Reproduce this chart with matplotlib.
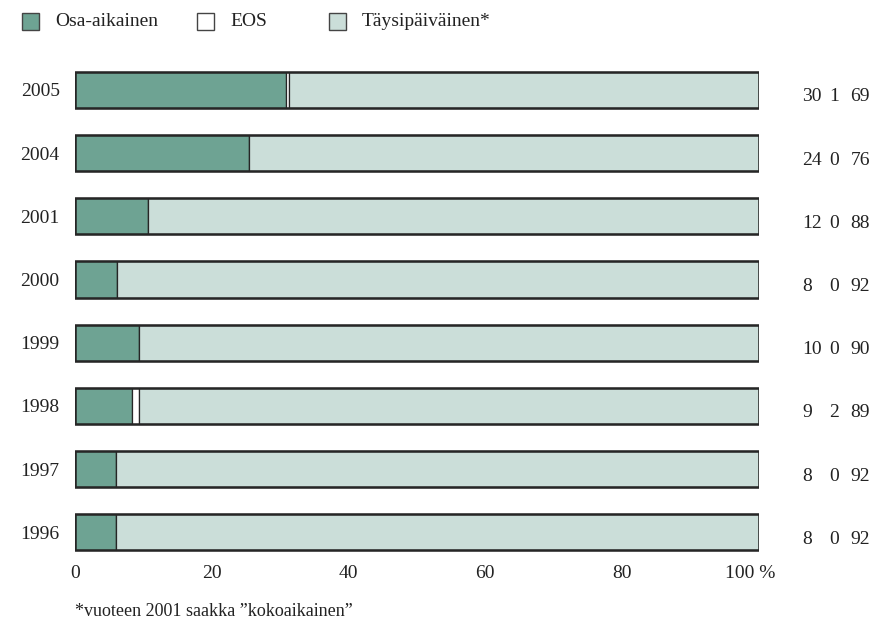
import matplotlib.pyplot as plt
from matplotlib.patches import Rectangle
from matplotlib.transforms import ScaledTranslation

plt.rcParams['font.family'] = ['Liberation Serif', 'DejaVu Serif']

years = ['1996', '1997', '1998', '1999', '2000', '2001', '2004', '2005']
# bar lengths as drawn in the picture (percent)
osa = [6.0, 6.0, 8.3, 9.4, 6.1, 10.7, 25.5, 30.8]
eos = [0.0, 0.0, 1.1, 0.0, 0.0, 0.0, 0.0, 0.5]
taysi = [100 - o - e for o, e in zip(osa, eos)]
# printed figures at the right of each bar
lbl_osa = ['8', '8', '9', '10', '8', '12', '24', '30']
lbl_eos = ['0', '0', '2', '0', '0', '0', '0', '1']
lbl_taysi = ['92', '92', '89', '90', '92', '88', '76', '69']

legend_names = ['Osa-aikainen', 'EOS', 'Täysipäiväinen*']
xticks = [0, 20, 40, 60, 80, 100]
xticklabels = ['0', '20', '40', '60', '80', '100 %']
footnote = '*vuoteen 2001 saakka ”kokoaikainen”'

c_osa = '#6ea393'
c_eos = '#ffffff'
c_taysi = '#cbded9'
c_edge = '#262626'
c_text = '#222222'

W, H = 872, 622
fig = plt.figure(figsize=(W / 100, H / 100), dpi=100)
ax = fig.add_axes([75 / W, (H - 563.9) / H, 683.5 / W, (563.9 - 58.3) / H])

ypos = list(range(len(years)))
bh = 0.57
ax.barh(ypos, osa, height=bh, color=c_osa, edgecolor=c_edge, linewidth=0.9)
ax.barh(ypos, eos, left=osa, height=bh, color=c_eos, edgecolor=c_edge, linewidth=0.9)
left2 = [o + e for o, e in zip(osa, eos)]
ax.barh(ypos, taysi, left=left2, height=bh, color=c_taysi, edgecolor=c_edge, linewidth=0.9)
# outer frame of each bar
ax.barh(ypos, [100] * len(years), height=bh, fill=False, edgecolor=c_edge, linewidth=1.8)

ax.set_xlim(0, 100)
ax.set_ylim(-0.5, len(years) - 0.5)
for s in ax.spines.values():
    s.set_visible(False)

ax.set_yticks(ypos)
ax.set_yticklabels(years)
ax.set_xticks(xticks)
ax.set_xticklabels(xticklabels)
ax.tick_params(axis='y', length=0, pad=11, labelsize=14, labelcolor=c_text)
ax.tick_params(axis='x', length=0, pad=1, labelsize=14, labelcolor=c_text)

# nudge "100 %" so the number sits under the bar end
lab = ax.get_xticklabels()[-1]
lab.set_transform(lab.get_transform() + ScaledTranslation(-8 / 100, 0, fig.dpi_scale_trans))

for y, a, b, c in zip(ypos, lbl_osa, lbl_eos, lbl_taysi):
    yy = y - 0.11
    ax.text(106.4, yy, a, ha='left', va='center', fontsize=14, color=c_text, clip_on=False)
    ax.text(111.1, yy, b, ha='center', va='center', fontsize=14, color=c_text, clip_on=False)
    ax.text(116.3, yy, c, ha='right', va='center', fontsize=14, color=c_text, clip_on=False)

# legend drawn by hand along the top
leg_x = [22, 197, 329]
leg_fill = [c_osa, c_eos, c_taysi]
for x0, name, fc in zip(leg_x, legend_names, leg_fill):
    fig.add_artist(Rectangle((x0 / W, (H - 30) / H), 17 / W, 17 / H,
                             transform=fig.transFigure, facecolor=fc,
                             edgecolor='#444444', linewidth=1.0))
    fig.text((x0 + 33) / W, (H - 22) / H, name, ha='left', va='center',
             fontsize=14, color=c_text)

fig.text(75 / W, (H - 611) / H, footnote, ha='left', va='center',
         fontsize=13, color=c_text)

fig.savefig('out.png', dpi=100)
